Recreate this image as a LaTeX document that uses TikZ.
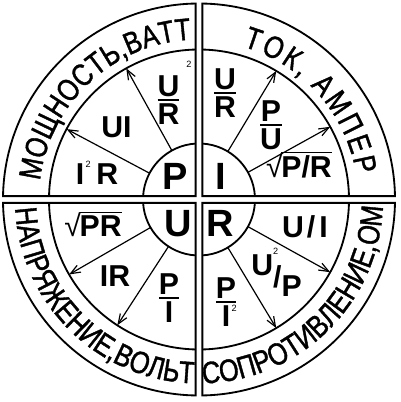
\documentclass[tikz,border=0pt]{standalone}
\usepackage{amsmath}
\usepackage{fontspec}
\setmainfont{Liberation Sans}
\newfontfamily\ringfont[FakeStretch=0.82,FakeBold=1.2]{Liberation Sans}
\usetikzlibrary{arrows.meta,decorations.text}
\newcommand\two{{\fontsize{6.5}{7}\selectfont\mdseries 2}}
\newcommand\fr[2]{$\genfrac{}{}{1.5pt}{1}{\hbox{#1}}{\hbox{#2}}$}
\newcommand\sq[1]{\textmd{√}\kern-1pt\vbox{\hrule height 1.2pt\kern 2pt\hbox{#1}}}

\begin{document}
\begin{tikzpicture}[scale=0.025,>={Straight Barb[length=7pt,width=5.5pt]},
 quad/.style={draw,line width=1.3pt},
 arr/.style={->,line width=0.85pt},
 big/.style={font=\fontsize{27}{30}\selectfont\bfseries,inner sep=0pt,anchor=base},
 fml/.style={font=\fontsize{21.5}{24}\selectfont\bfseries,inner sep=0pt,anchor=base},
 lbl/.style={decorate,decoration={text along path,text align=center,text={|\ringfont\fontsize{22}{24}\selectfont|#1}}}]
\useasboundingbox (-199,-202.5) rectangle (201,199.5);
\pgfmathsetmacro\ao{asin(3.4/196)}\pgfmathsetmacro\am{asin(3.4/150)}\pgfmathsetmacro\ai{asin(3.4/56)}
% four quadrants with their rings
\foreach \k in {0,...,3}{
 \draw[quad,rotate=90*\k] (3.4,3.4) -- (90-\ao:196) arc[start angle=90-\ao,end angle=\ao,radius=196] -- cycle;
 \draw[quad,rotate=90*\k] (\am:150) arc[start angle=\am,end angle=90-\am,radius=150];
 \draw[quad,rotate=90*\k] (\ai:56) arc[start angle=\ai,end angle=90-\ai,radius=56];}
% arrows from the centre letters
\foreach \a/\n in {152/a,119/b,59/c,29/d,210/e,237/f,-29/g,-59/h}{
 \coordinate (\n0) at (\a:56);\coordinate (\n1) at (\a:150);\draw[arr] (\n0)--(\n1);}
\node[big] (p) at (-24,9.5) {P};\node[big] (i) at (22,9.5) {I};
\node[big] (u) at (-21,-37.5) {U};\node[big] (r) at (21,-37.5) {R};
% power
\node[fml] (pir) at (-102,14.5) {I\kern1pt\raisebox{12.5pt}{\two}\kern4pt R};
\node[fml] (pui) at (-82.5,61.5) {UI};
\node[fml] (pur) at (-30.5,92) {\fr{U\rlap{\kern5pt\raisebox{20pt}{\two}}}{R}};
% current
\node[fml] (iur) at (26,99) {\fr{U}{R}};
\node[fml] (ipu) at (72,67) {\fr{P}{U}};
\node[fml] (ipr) at (100,21.5) {\sq{P/R}};
% voltage
\node[fml] (upr) at (-106,-37.5) {\sq{PR}};
\node[fml] (uir) at (-84,-87.5) {IR};
\node[fml] (upi) at (-30,-106) {\fr{P}{I}};
% resistance
\node[fml] (rui) at (106,-38.5) {U\kern2pt/\kern3pt I};
\node[fml] (rup) at (77.5,-97.5) {\raisebox{15.5pt}{U}\rlap{\raisebox{30pt}{\two}}\raisebox{7pt}{/}P};
\node[fml] (rpi) at (27,-110) {\fr{P}{I\rlap{\kern1pt\raisebox{10.5pt}{\two}}}};
% ring texts
\path[lbl={МОЩНОСТЬ,ВАТТ}] (188:160) arc[start angle=188,end angle=78,radius=160];
\path[lbl={ТОК, АМПЕР},decoration={text align=fit to path}] (74:159) arc[start angle=74,end angle=9,radius=159];
\path[lbl={НАПРЯЖЕНИЕ,ВОЛЬТ}] (170.5:184) arc[start angle=170.5,end angle=280.5,radius=184];
\path[lbl={СОПРОТИВЛЕНИЕ,ОМ}] (259.5:184) arc[start angle=259.5,end angle=369.5,radius=184];
\end{tikzpicture}
\end{document}
